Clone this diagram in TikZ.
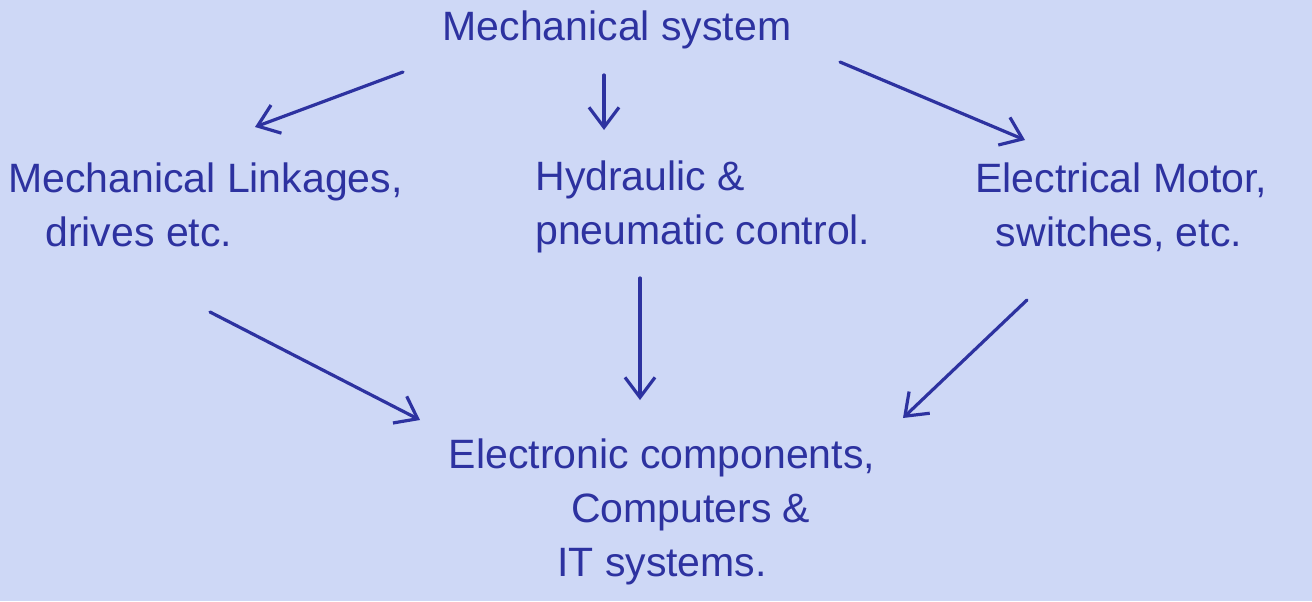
\documentclass[tikz,border=0pt]{standalone}
\usepackage{fontspec}
\setmainfont{Liberation Sans}
\usetikzlibrary{arrows.meta}
\definecolor{paper}{RGB}{206,216,246}
\definecolor{ink}{RGB}{45,50,160}
\begin{document}
\begin{tikzpicture}[x=0.5pt,y=-0.5pt,
  lbl/.style={text=ink,font=\fontsize{20.5}{27}\selectfont,align=center,inner sep=0pt},
  arr/.style={draw=ink,line width=1.6pt,line cap=round,-{Straight Barb[length=10pt,width=15pt,line width=1.6pt]}}]
  % sheet of paper
  \fill[paper] (0,0) rectangle (1312,601);
  \useasboundingbox (0,0) rectangle (1312,601);
  % texts
  \node[lbl] (top) at (617,30) {Mechanical system};
  \node[lbl,align=left,anchor=west] (left) at (8,205) {Mechanical Linkages,\\ \hspace*{0.9em}drives etc.};
  \node[lbl,align=left,anchor=west] (mid) at (535,207) {Hydraulic \&\\ pneumatic control.};
  \node[lbl,align=left,anchor=west] (right) at (975,207) {Electrical Motor,\\ \hspace*{0.5em}switches, etc.};
  \node[lbl] (bot) at (662,512) {Electronic components,\\ \hspace*{1.4em}Computers \&\\ IT systems.};
  % arrow ends
  \coordinate (a1s) at (403,72);  \coordinate (a1e) at (255,127);
  \coordinate (a2s) at (604,75);  \coordinate (a2e) at (604,130);
  \coordinate (a3s) at (840,62);  \coordinate (a3e) at (1025,140);
  \coordinate (a4s) at (210,312); \coordinate (a4e) at (420,420);
  \coordinate (a5s) at (640,278); \coordinate (a5e) at (640,400);
  \coordinate (a6s) at (1027,300);\coordinate (a6e) at (903,418);
  % connectors
  \draw[arr] (a1s) -- (a1e);
  \draw[arr] (a2s) -- (a2e);
  \draw[arr] (a3s) -- (a3e);
  \draw[arr] (a4s) -- (a4e);
  \draw[arr] (a5s) -- (a5e);
  \draw[arr] (a6s) -- (a6e);
\end{tikzpicture}
\end{document}
